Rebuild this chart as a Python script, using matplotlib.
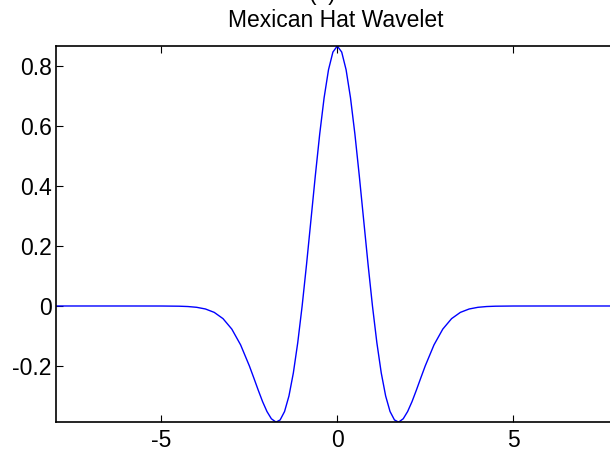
import matplotlib
matplotlib.use("Agg")
import matplotlib.pyplot as plt

# ---- data (Mexican hat curve samples) ----
x_vals = [-8.0, -7.0, -6.0, -5.0, -4.5, -4.25, -4.0, -3.75, -3.5, -3.25, -3.0,
          -2.75, -2.5, -2.375, -2.25, -2.125, -2.0, -1.875, -1.75, -1.732, -1.625,
          -1.5, -1.375, -1.25, -1.125, -1.0, -0.875, -0.75, -0.625, -0.5, -0.375,
          -0.25, -0.125, 0.0, 0.125, 0.25, 0.375, 0.5, 0.625, 0.75, 0.875, 1.0,
          1.125, 1.25, 1.375, 1.5, 1.625, 1.732, 1.75, 1.875, 2.0, 2.125, 2.25,
          2.375, 2.5, 2.75, 3.0, 3.25, 3.5, 3.75, 4.0, 4.25, 4.5, 5.0, 6.0, 7.0, 8.0]
y_vals = [0.0, 0.0, 0.0, -0.0001, -0.0007, -0.0018, -0.0044, -0.0100, -0.0213, -0.0422, -0.0771,
          -0.1297, -0.2001, -0.2398, -0.2803, -0.3190, -0.3521, -0.3762, -0.3869, -0.3868, -0.3800,
          -0.3520, -0.3002, -0.2234, -0.1224, 0.0, 0.1386, 0.2864, 0.4347, 0.5740, 0.6947,
          0.7881, 0.8471, 0.8673, 0.8471, 0.7881, 0.6947, 0.5740, 0.4347, 0.2864, 0.1386, 0.0,
          -0.1224, -0.2234, -0.3002, -0.3520, -0.3800, -0.3868, -0.3869, -0.3762, -0.3521, -0.3190, -0.2803,
          -0.2398, -0.2001, -0.1297, -0.0771, -0.0422, -0.0213, -0.0100, -0.0044, -0.0018, -0.0007, -0.0001, 0.0, 0.0, 0.0]

x_ticks = [-5, 0, 5]
y_ticks = [-0.2, 0, 0.2, 0.4, 0.6, 0.8]
y_tick_labels = ["-0.2", "0", "0.2", "0.4", "0.6", "0.8"]

title = "Mexican Hat Wavelet"
subtitle = "(a)"

plt.rcParams["font.family"] = ["Liberation Sans", "DejaVu Sans"]

W, H = 610, 455
fig = plt.figure(figsize=(W / 100, H / 100), dpi=100)
# axes box in pixels: left 56, top 46, bottom 422, right runs past the image edge
ax = fig.add_axes([56 / W, (H - 422) / H, 562.6 / W, (422 - 46) / H])

ax.plot(x_vals, y_vals, color="#0000ff", lw=1.0)

ax.set_xlim(-8, 8)
ax.set_ylim(-0.387, 0.8673)
ax.set_xticks(x_ticks)
ax.set_xticklabels([str(t) for t in x_ticks])
ax.set_yticks(y_ticks)
ax.set_yticklabels(y_tick_labels)
ax.tick_params(direction="in", length=5, width=0.8, labelsize=16.5,
               top=True, right=True)
ax.tick_params(axis="y", pad=3)
ax.tick_params(axis="x", pad=5)
for s in ax.spines.values():
    s.set_linewidth(1.2)

fig.text(336 / W, (H - 27) / H, title, ha="center", va="baseline", fontsize=16.5)
fig.text(323 / W, 1.0, subtitle, ha="center", va="baseline", fontsize=16.5)

fig.savefig("out.png", dpi=100)
